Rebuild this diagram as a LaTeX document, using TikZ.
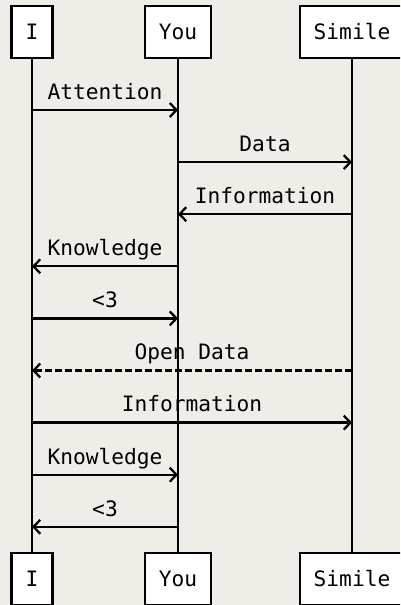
\documentclass[tikz,border=0pt]{standalone}
\usepackage{fontspec}
\setmonofont{DejaVu Sans Mono}
\usetikzlibrary{arrows.meta}
\definecolor{paper}{RGB}{240,236,232}
\tikzset{
  actor/.style={draw,line width=1.7pt,fill=white,inner xsep=10.5pt,minimum height=39pt},
  lifeline/.style={line width=1.7pt},
  dashedmsg/.style={dash pattern=on 5.25pt off 2.25pt},
  msg/.style={line width=1.7pt,-{Straight Barb[length=5pt,width=10.5pt,line width=1.7pt]}},
  msglabel/.style={midway,anchor=base,yshift=8pt,inner sep=0pt}
}
\begin{document}
\begin{tikzpicture}[x=0.75pt,y=-0.75pt,font=\ttfamily\fontsize{15.9}{18}\selectfont]
  \useasboundingbox (0,0) rectangle (400,605);
  \clip (0,0) rectangle (400,605);
  \fill[paper] (0,0) rectangle (400,605);
  \def \Actors{
    I/32,
    You/178,
    Simile/352}
  \def \Messages{
    1/I/You/Attention/solid,
    2/You/Simile/Data/solid,
    3/Simile/You/Information/solid,
    4/You/I/Knowledge/solid,
    5/I/You/<3/solid,
    6/Simile/I/Open Data/dashedmsg,
    7/I/Simile/Information/solid,
    8/I/You/Knowledge/solid,
    9/You/I/<3/solid}
  % heads, feet and lifelines
  \foreach \name / \x in \Actors{
    \node[actor] (\name-head) at (\x, 32) {\name};
    \node[actor] (\name-foot) at (\x, 579) {\name};
    \draw[lifeline] (\name-head) -- (\name-foot);
    \foreach \n in {1,...,9}{
      \coordinate (\name-\n) at (\x, {57.9+52.1*\n});
    }
  }
  % messages
  \foreach \n / \from / \to / \txt / \s in \Messages{
    \draw[msg,\s] (\from-\n) -- (\to-\n) node[msglabel] {\txt};
  }
\end{tikzpicture}
\end{document}
